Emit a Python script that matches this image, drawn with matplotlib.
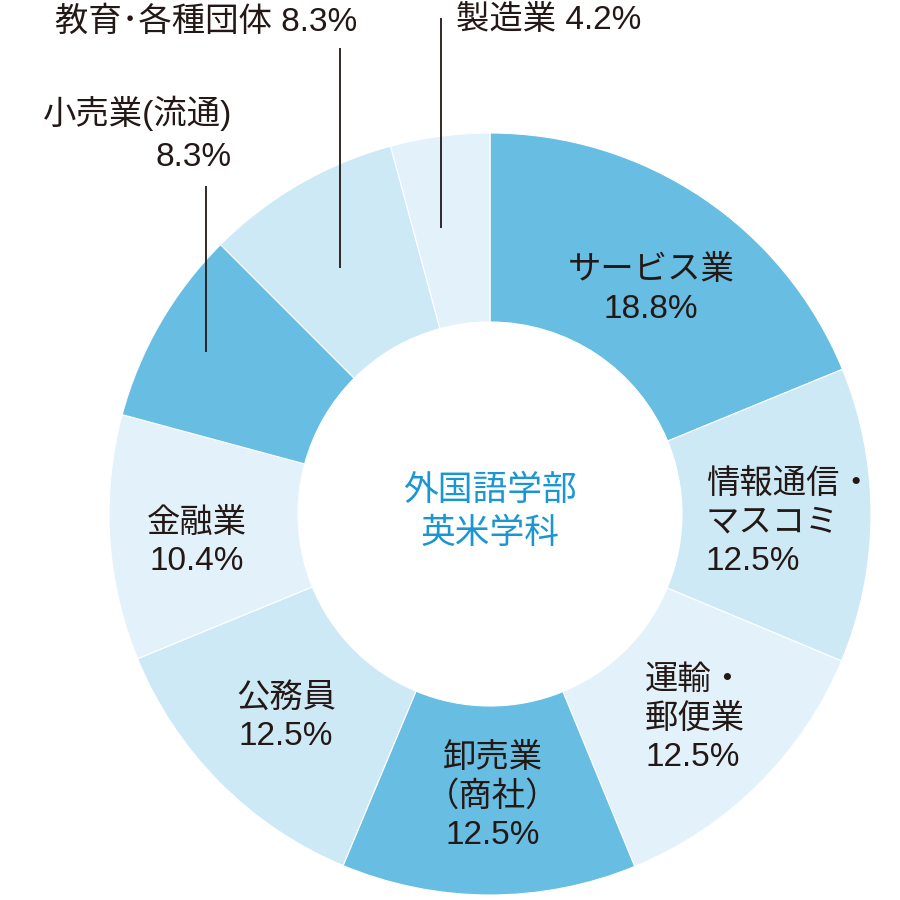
import matplotlib
matplotlib.use('Agg')
import matplotlib.pyplot as plt

plt.rcParams['font.family'] = ['Liberation Sans', 'Noto Sans CJK JP', 'DejaVu Sans']

# data
categories = ['サービス業', '情報通信・マスコミ', '運輸・郵便業', '卸売業（商社）', '公務員',
              '金融業', '小売業(流通)', '教育･各種団体', '製造業']
shares = [18.8, 12.5, 12.5, 12.5, 12.5, 10.4, 8.3, 8.3, 4.2]
DARK, MID, LIGHT = '#67bee2', '#cde9f5', '#e3f2fa'
colors = [DARK, MID, LIGHT, DARK, MID, LIGHT, DARK, MID, LIGHT]
center_title = '外国語学部\n英米学科'

TEXT = '#231815'
W, H = 900, 900
CX, CY = 490, H - 514
R_OUT, R_IN = 381, 192

fig = plt.figure(figsize=(9, 9), dpi=100)
ax = fig.add_axes([0, 0, 1, 1])
ax.pie(shares, colors=colors, startangle=90, counterclock=False,
       center=(CX, CY), radius=R_OUT,
       wedgeprops=dict(width=R_OUT - R_IN, edgecolor='white', linewidth=0.8))
ax.set_xlim(0, W)
ax.set_ylim(0, H)
ax.set_aspect('equal')
ax.axis('off')

fs = 24


def label(x, y, s, ha='center', **kw):
    # positions given in picture pixel coords (y from top)
    ax.text(x, H - y, s, ha=ha, va='center', fontsize=fs, color=TEXT,
            linespacing=1.3, **kw)


def pct(v):
    return f'{v:.1f}%'


label(651, 290, f'{categories[0]}\n{pct(shares[0])}')
label(706, 523, '情報通信・\nマスコミ\n' + pct(shares[1]), ha='left')
label(645, 719, '運輸・\n郵便業\n' + pct(shares[2]), ha='left')
label(493, 797, '卸売業\n（商社）\n' + pct(shares[3]))
label(286, 717, f'{categories[4]}\n{pct(shares[4])}')
label(197, 542, f'{categories[5]}\n{pct(shares[5])}')
label(232, 113, categories[6], ha='right')
label(232, 158, pct(shares[6]), ha='right')
label(357, 22, f'{categories[7]} {pct(shares[7])}', ha='right')
label(456, 20, f'{categories[8]} {pct(shares[8])}', ha='left')

# leader lines
for x, y0, y1 in [(441, 18, 228), (340, 48, 268), (206, 186, 352)]:
    ax.plot([x, x], [H - y0, H - y1], color=TEXT, lw=1.3, solid_capstyle='butt')

ax.text(CX, H - 512, center_title, ha='center', va='center', fontsize=25,
        color='#1a96d2', linespacing=1.35)

fig.savefig('out.png', dpi=100, facecolor='white')
